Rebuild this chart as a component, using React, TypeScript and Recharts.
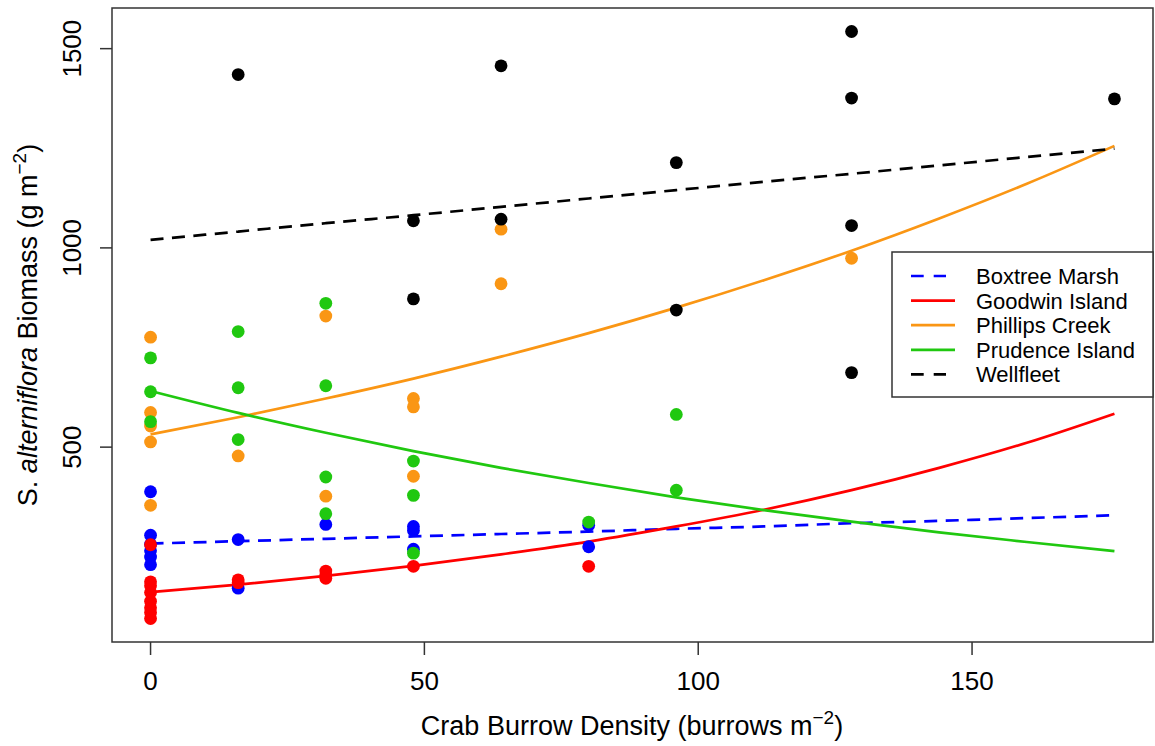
import React from 'react';
import { ComposedChart, Scatter, Line, XAxis, YAxis, ReferenceArea } from 'recharts';

// --- axis ticks ---
const xTicks = [0, 50, 100, 150];
const yTicks = [500, 1000, 1500];

// --- observed biomass by site: [burrow density, biomass] ---
const boxtreeObs = [
  [0, 388], [0, 279], [0, 256], [0, 240], [0, 224], [0, 205],
  [16, 268], [16, 146], [32, 306], [48, 301], [48, 291], [48, 244],
  [80, 304], [80, 250],
];
const goodwinObs = [
  [0, 255], [0, 162], [0, 152], [0, 135], [0, 113], [0, 97], [0, 85], [0, 70],
  [16, 167], [16, 160], [32, 189], [32, 180], [32, 171], [48, 201], [80, 201],
];
const phillipsObs = [
  [0, 776], [0, 587], [0, 553], [0, 513], [0, 354], [16, 478],
  [32, 829], [32, 377], [48, 622], [48, 601], [48, 427],
  [64, 1047], [64, 910], [128, 974],
];
const prudenceObs = [
  [0, 724], [0, 639], [0, 564], [16, 790], [16, 649], [16, 519],
  [32, 861], [32, 654], [32, 425], [32, 333], [48, 465], [48, 379], [48, 234],
  [80, 312], [96, 582], [96, 392],
];
const wellfleetObs = [
  [16, 1435], [48, 1068], [48, 872], [64, 1457], [64, 1072],
  [96, 1214], [96, 844], [128, 1543], [128, 1376], [128, 1056], [128, 687], [176, 1374],
];

// --- fitted curves ---
const fitX = [0, 16, 32, 48, 64, 80, 96, 112, 128, 144, 160, 176];
const boxtreeFit = [258, 264, 270, 276, 282, 288, 295, 301, 309, 315, 322, 329];
const goodwinFit = [136, 155, 177, 202, 231, 263, 301, 343, 392, 448, 511, 584];
const phillipsFit = [532, 575, 622, 672, 727, 786, 850, 919, 993, 1074, 1161, 1256];
const prudenceFit = [641, 586, 536, 490, 448, 410, 374, 342, 313, 286, 262, 239];
const wellfleetFit = [1020, 1041, 1062, 1082, 1103, 1124, 1145, 1166, 1186, 1207, 1228, 1249];

const toPts = (obs: number[][]) => obs.map(([x, y]) => ({ x, y }));
const toCurve = (ys: number[]) => fitX.map((x, i) => ({ x, y: ys[i] }));

const BLUE = '#0000FF';
const RED = '#FF0000';
const ORANGE = '#FA9614';
const GREEN = '#20C810';
const BLACK = '#000000';
const FONT = '"Liberation Sans", Arial, Helvetica, sans-serif';

const sites = [
  { name: 'Boxtree Marsh', color: BLUE, dashed: true, obs: boxtreeObs, fit: boxtreeFit },
  { name: 'Goodwin Island', color: RED, dashed: false, obs: goodwinObs, fit: goodwinFit },
  { name: 'Phillips Creek', color: ORANGE, dashed: false, obs: phillipsObs, fit: phillipsFit },
  { name: 'Prudence Island', color: GREEN, dashed: false, obs: prudenceObs, fit: prudenceFit },
  { name: 'Wellfleet', color: BLACK, dashed: true, obs: wellfleetObs, fit: wellfleetFit },
];

const dot = (color: string) => (props: any) => (
  <circle cx={props.cx} cy={props.cy} r={6.4} fill={color} stroke="none" />
);

const YTick = (props: any) => {
  const { x, y, payload } = props;
  return (
    <text
      x={x}
      y={y}
      transform={`rotate(-90, ${x}, ${y})`}
      textAnchor="middle"
      fontSize={26}
      fill="#000"
      fontFamily={FONT}
    >
      {payload.value}
    </text>
  );
};

const XTitle = () => (
  <text x={632} y={735} textAnchor="middle" fontSize={27} fill="#000" fontFamily={FONT}>
    Crab Burrow Density (burrows m
    <tspan dy={-11} fontSize={19}>−2</tspan>
    <tspan dy={11}>)</tspan>
  </text>
);

const YTitle = () => (
  <text
    x={37}
    y={325}
    transform="rotate(-90, 37, 325)"
    textAnchor="middle"
    fontSize={27}
    fill="#000"
    fontFamily={FONT}
  >
    S. <tspan fontStyle="italic">alterniflora</tspan> Biomass (g m
    <tspan dy={-11} fontSize={19}>−2</tspan>
    <tspan dy={11}>)</tspan>
  </text>
);

const LegendBox = () => (
  <svg
    width={263}
    height={147}
    style={{ position: 'absolute', left: 891, top: 251, fontFamily: FONT }}
  >
    <rect x={1} y={1} width={261} height={145} fill="#fff" stroke="#333" strokeWidth={1.5} />
    {sites.map((s, i) => {
      const cy = 25 + i * 24.6;
      return (
        <g key={s.name}>
          <line
            x1={20}
            x2={s.dashed ? 55 : 64}
            y1={cy}
            y2={cy}
            stroke={s.color}
            strokeWidth={2.7}
            strokeDasharray={s.dashed ? '12.7 10' : undefined}
          />
          <text x={85} y={cy + 8} fontSize={22} fill="#000">
            {s.name}
          </text>
        </g>
      );
    })}
  </svg>
);

export default function App() {
  return (
    <div style={{ position: 'absolute', left: 0, top: 0, width: 1155, height: 746, background: '#fff' }}>
      <ComposedChart
        width={1155}
        height={746}
        margin={{ top: 8, right: 2, bottom: 0, left: 0 }}
        style={{ fontFamily: FONT }}
      >
        <XAxis
          type="number"
          dataKey="x"
          domain={[-7.04, 183.04]}
          ticks={xTicks}
          allowDataOverflow
          height={104}
          axisLine={false}
          tickSize={13}
          tickMargin={17}
          tickLine={{ stroke: '#333', strokeWidth: 1.5 }}
          tick={{ fontSize: 26, fill: '#000', fontFamily: FONT }}
          label={<XTitle />}
        />
        <YAxis
          type="number"
          dataKey="y"
          domain={[11, 1602]}
          ticks={yTicks}
          allowDataOverflow
          width={112}
          axisLine={false}
          tickSize={12}
          tickMargin={19}
          tickLine={{ stroke: '#333', strokeWidth: 1.5 }}
          tick={<YTick />}
          label={<YTitle />}
        />
        {sites.map((s) => (
          <Scatter
            key={`pts-${s.name}`}
            name={s.name}
            data={toPts(s.obs)}
            shape={dot(s.color)}
            isAnimationActive={false}
          />
        ))}
        {sites.map((s) => (
          <Line
            key={`fit-${s.name}`}
            data={toCurve(s.fit)}
            dataKey="y"
            type="monotone"
            stroke={s.color}
            strokeWidth={2.7}
            strokeDasharray={s.dashed ? '13 8.5' : undefined}
            dot={false}
            activeDot={false}
            legendType="none"
            isAnimationActive={false}
          />
        ))}
        <ReferenceArea
          x1={-7.04}
          x2={183.04}
          y1={11}
          y2={1602}
          fill="none"
          fillOpacity={0}
          stroke="#333"
          strokeWidth={1.5}
          ifOverflow="visible"
        />
      </ComposedChart>
      <LegendBox />
    </div>
  );
}
